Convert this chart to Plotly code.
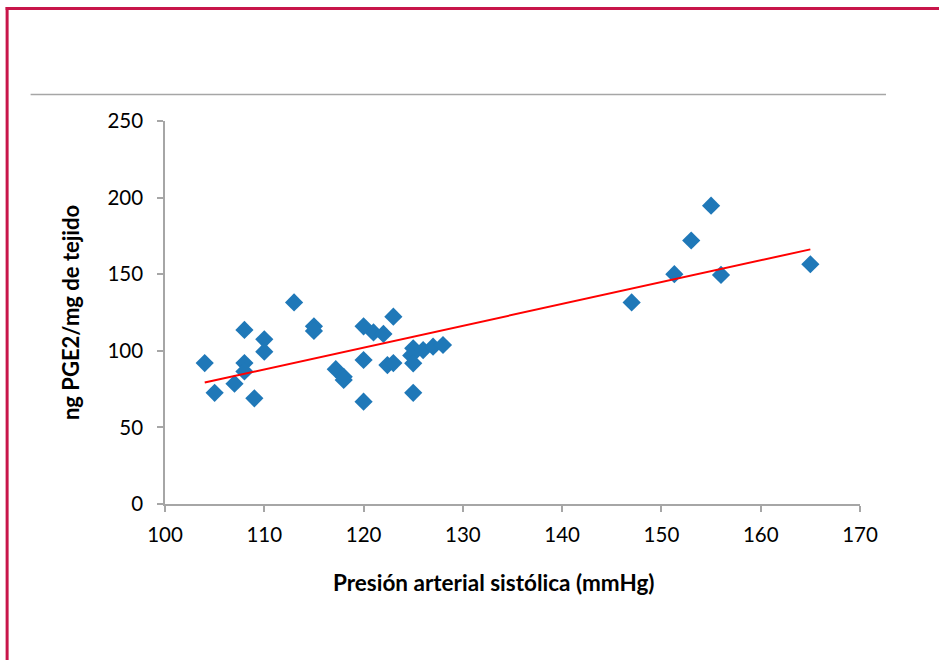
import numpy as np
import plotly.graph_objects as go

presion = [104, 105, 107, 108, 108, 108, 109, 110, 110, 113, 115, 115,
           117.2, 118, 118, 120, 120, 120, 121, 122, 122.4, 123, 123,
           125, 124.8, 125, 125, 126, 127, 128, 147, 151.3, 153, 155, 156, 165]
pge2 = [92, 72.6, 78.5, 113.6, 92, 86.5, 69, 107.5, 99.4, 131.6, 116, 113,
        88, 83, 81, 116, 94, 66.8, 112, 111, 90.7, 92, 122.3,
        101.6, 97, 91.8, 72.6, 100.5, 102.7, 103.8, 131.6, 150, 172, 194.7, 149.5, 156.5]

x_ticks = [100, 110, 120, 130, 140, 150, 160, 170]
y_ticks = [0, 50, 100, 150, 200, 250]

slope, intercept = np.polyfit(presion, pge2, 1)
x_fit = np.array([min(presion), max(presion)])
y_fit = slope * x_fit + intercept

W, H = 939, 660
L, R, T, B = 164.5, 860, 121, 504

def px(x):
    return (x - L) / (R - L)

def py(y):
    return (B - y) / (B - T)

fig = go.Figure()
fig.add_trace(go.Scatter(x=presion, y=pge2, mode="markers",
                         marker=dict(symbol="diamond", size=14, color="#1f78b8",
                                     line=dict(width=0)),
                         showlegend=False, hoverinfo="x+y"))
fig.add_trace(go.Scatter(x=x_fit, y=y_fit, mode="lines",
                         line=dict(color="#ff0000", width=2),
                         showlegend=False, hoverinfo="skip"))

fig.update_layout(
    width=W, height=H,
    margin=dict(l=L, r=W - R, t=T, b=H - B),
    paper_bgcolor="white", plot_bgcolor="white",
    font=dict(family="Lato, Carlito, sans-serif", size=20, color="#000000"),
    xaxis=dict(range=[100, 170], tickvals=x_ticks, showgrid=False, zeroline=False,
               showline=True, linecolor="#a6a6a6", linewidth=1.5,
               ticks="outside", ticklen=6, tickcolor="#a6a6a6", tickwidth=1.5,
               tickfont=dict(size=20.5), ticklabelstandoff=6),
    yaxis=dict(range=[0, 250], tickvals=y_ticks, showgrid=False, zeroline=False,
               showline=True, linecolor="#a6a6a6", linewidth=1.5,
               ticks="outside", ticklen=6, tickcolor="#a6a6a6", tickwidth=1.5,
               tickfont=dict(size=20.5), ticklabelstandoff=10,
               title=dict(text="<b>ng PGE2/mg de tejido</b>",
                          font=dict(size=22), standoff=22)),
    annotations=[
        dict(text="<b>Presión arterial sistólica (mmHg)</b>", xref="paper", yref="paper",
             x=px(494), y=py(582), xanchor="center", yanchor="middle",
             showarrow=False, font=dict(size=22.5)),
    ],
    shapes=[
        dict(type="line", xref="paper", yref="paper",
             x0=px(30), x1=px(886), y0=py(94.5), y1=py(94.5),
             line=dict(color="#a6a6a6", width=1.5)),
        dict(type="line", xref="paper", yref="paper",
             x0=px(5), x1=px(945), y0=py(8.5), y1=py(8.5),
             line=dict(color="#c8164a", width=3)),
        dict(type="line", xref="paper", yref="paper",
             x0=px(6.5), x1=px(6.5), y0=py(7), y1=py(670),
             line=dict(color="#c8164a", width=3)),
    ],
)

fig.write_html("out.html")
